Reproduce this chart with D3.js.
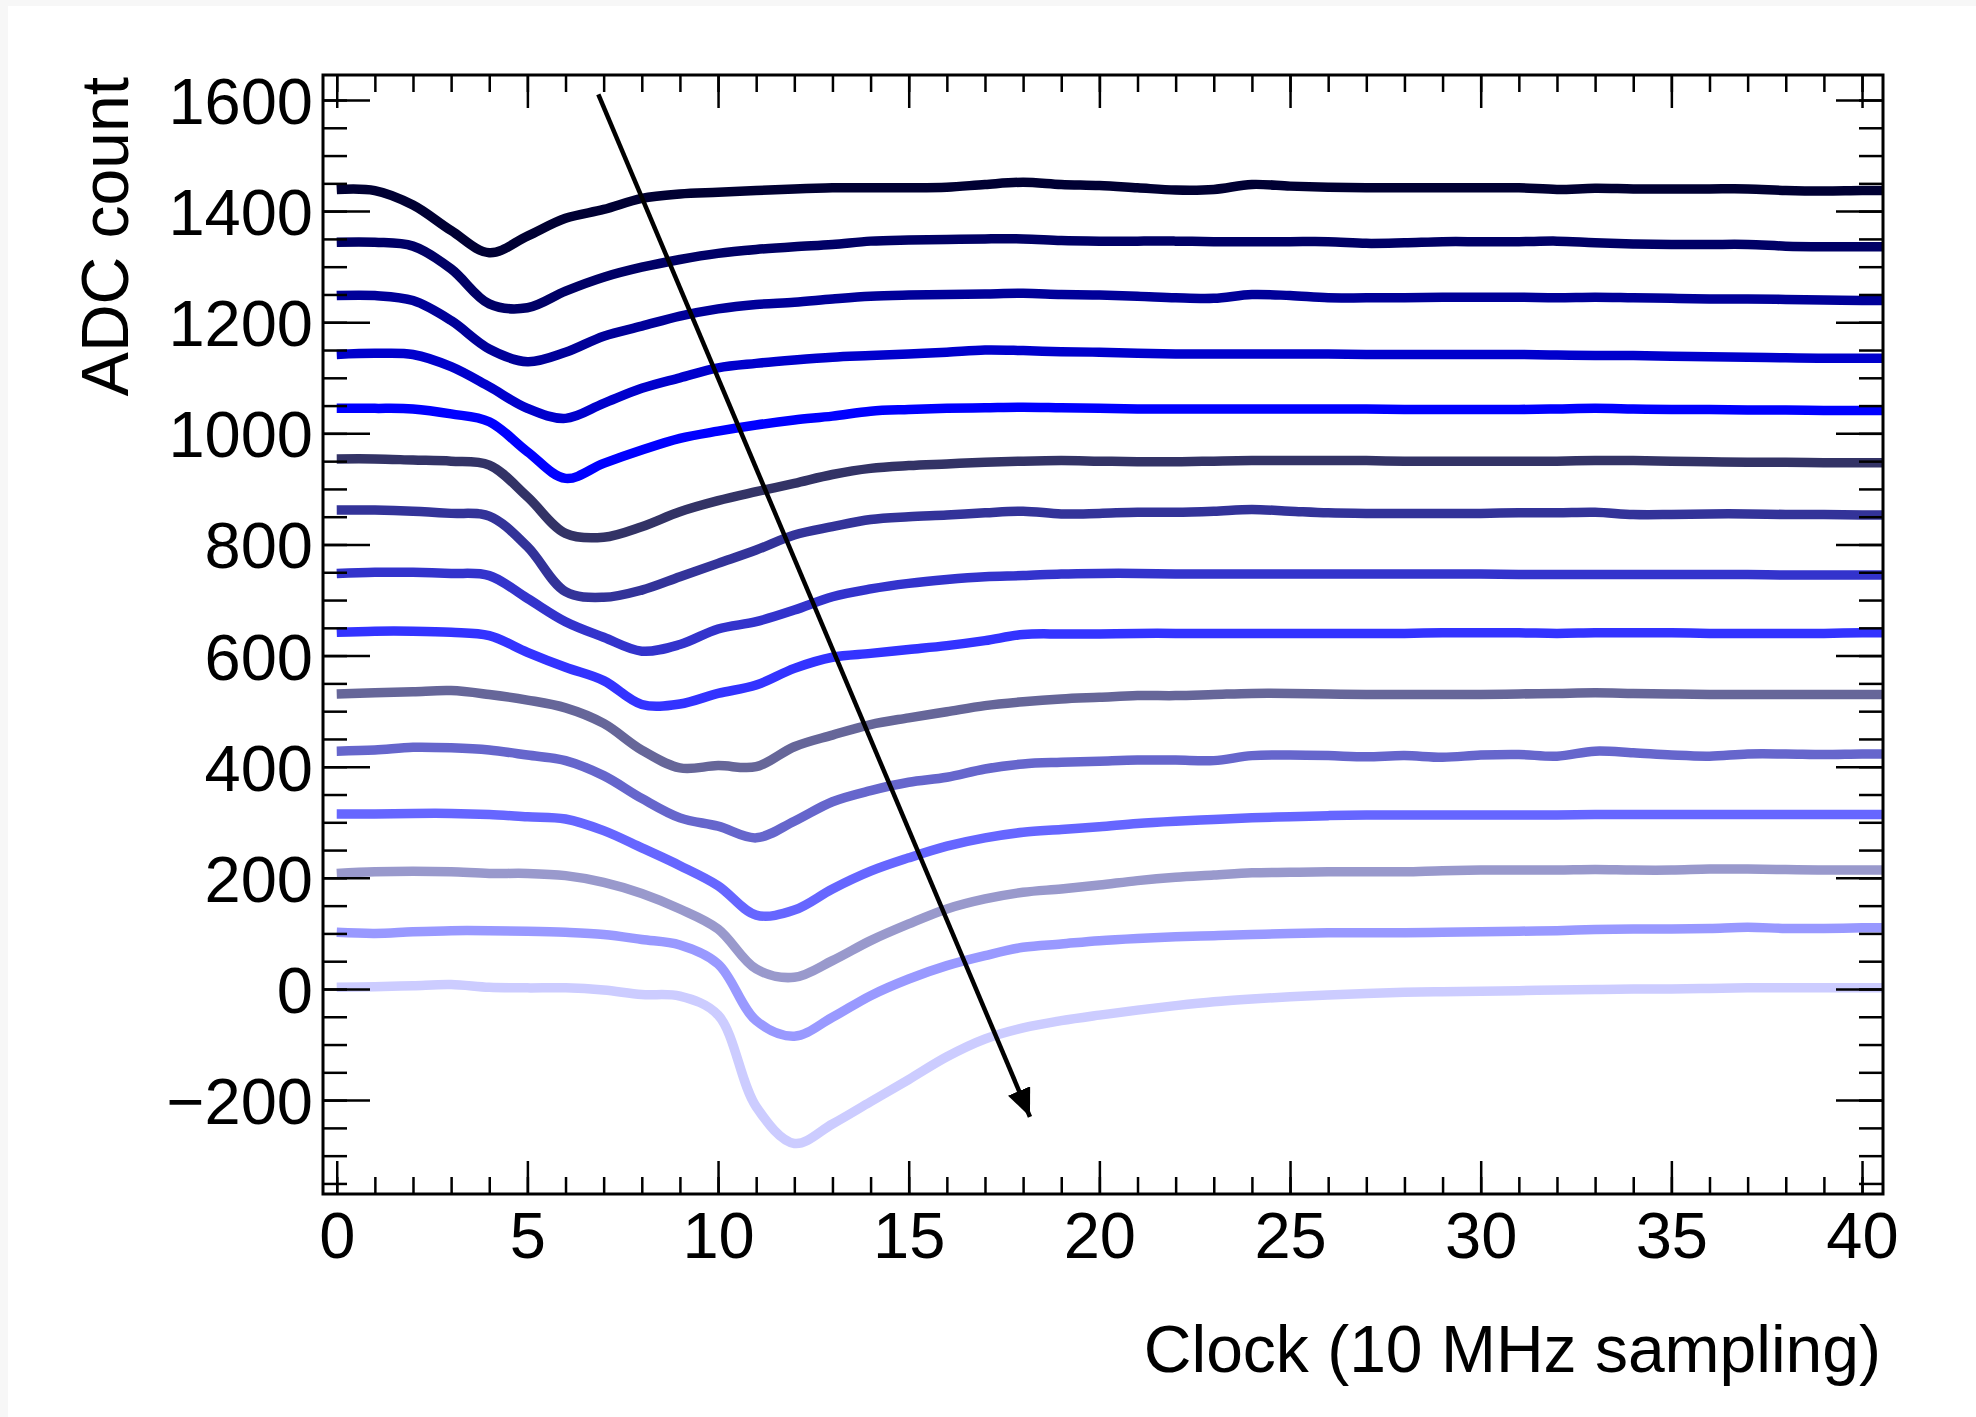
<!DOCTYPE html>
<html><head><meta charset="utf-8">
<script src="https://cdn.jsdelivr.net/npm/d3@7/dist/d3.min.js"></script>
<style>body{margin:0;background:#f7f7f7} svg{display:block}</style>
</head><body>
<svg id="chart" width="1976" height="1417"></svg>
<script>
// ---------------- data ----------------
const clocks = d3.range(0, 42); // 0..41 (last point runs past the frame edge)

const adcA = [1439,1437,1411,1365,1325,1355,1387,1403,1423,1431,1434,1437,1440,1442,1442,1442,1443,1448,1452,1448,1446,1442,1438,1439,1448,1445,1443,1442,1442,1442,1442,1442,1439,1441,1440,1440,1440,1440,1437,1436,1437,1437];
const adcB = [1344,1344,1337,1296,1233,1226,1256,1281,1299,1313,1324,1331,1336,1340,1346,1348,1349,1350,1350,1347,1346,1346,1346,1345,1345,1345,1345,1342,1343,1345,1345,1345,1346,1343,1341,1340,1340,1340,1337,1336,1336,1336];
const adcC = [1248,1248,1239,1203,1152,1129,1146,1175,1193,1211,1224,1232,1236,1242,1247,1249,1250,1251,1252,1250,1249,1247,1244,1243,1250,1248,1244,1244,1244,1245,1245,1245,1244,1245,1244,1243,1242,1242,1241,1240,1239,1239];
const adcD = [1142,1144,1142,1120,1084,1045,1027,1054,1081,1100,1118,1126,1132,1137,1140,1143,1146,1150,1149,1147,1146,1144,1143,1143,1143,1143,1143,1142,1142,1142,1142,1142,1141,1140,1140,1139,1138,1137,1136,1135,1135,1135];
const adcE = [1045,1045,1044,1035,1021,967,919,946,970,991,1004,1015,1024,1031,1040,1043,1045,1046,1047,1046,1045,1044,1044,1044,1044,1044,1044,1044,1043,1043,1043,1043,1044,1045,1044,1043,1043,1042,1042,1041,1041,1041];
const adcF = [954,954,952,950,943,886,820,813,832,859,879,895,910,926,937,942,945,948,950,951,950,949,949,950,951,951,951,951,950,950,950,950,950,951,951,950,949,948,948,947,947,947];
const adcG = [862,862,860,856,851,796,715,705,718,742,766,790,817,832,845,850,853,857,860,855,856,858,858,860,863,860,857,856,856,856,856,857,857,858,854,854,855,855,854,854,853,853];
const adcH = [748,750,750,748,744,703,661,633,608,620,648,661,682,706,720,730,737,742,744,747,748,748,747,747,747,747,747,747,747,747,747,746,746,746,746,746,746,746,745,745,745,745];
const adcI = [642,644,644,642,636,606,579,555,512,513,532,547,577,597,604,611,618,627,638,639,639,640,640,640,640,640,640,640,640,641,641,641,640,641,641,641,640,640,640,640,641,641];
const adcJ = [531,533,535,537,530,520,506,478,430,398,402,400,436,457,476,488,499,510,517,522,525,528,528,530,532,532,531,530,530,530,530,531,532,533,532,531,530,530,530,530,530,530];
const adcK = [428,430,435,434,430,421,411,384,343,308,293,272,302,337,357,372,381,396,405,408,410,412,412,411,420,421,420,418,420,417,421,422,419,428,425,421,419,423,423,422,423,423];
const adcL = [315,315,316,316,314,310,306,285,254,222,186,133,142,180,212,236,257,272,282,287,292,298,302,305,308,310,312,313,313,313,313,313,313,314,314,314,314,314,314,314,314,314];
const adcM = [208,211,212,211,208,208,204,192,172,144,108,36,21,51,87,117,144,162,174,180,187,195,201,205,209,210,211,211,211,213,214,214,214,215,214,214,216,216,215,214,214,214];
const adcN = [102,100,103,105,105,104,102,98,89,79,45,-57,-85,-51,-12,18,42,60,75,81,87,91,94,96,98,100,101,101,101,102,103,104,105,107,108,108,109,111,109,109,110,110];
const adcO = [3,4,6,8,3,2,2,-2,-10,-13,-47,-212,-278,-243,-203,-163,-122,-90,-70,-57,-47,-38,-30,-23,-18,-14,-11,-8,-6,-5,-4,-3,-2,-1,0,0,1,2,2,2,2,2];

const seriesList = [adcA, adcB, adcC, adcD, adcE, adcF, adcG, adcH, adcI, adcJ, adcK, adcL, adcM, adcN, adcO];
const seriesColors = ["#000033","#000066","#000099","#0000cc","#0000ff",
                      "#333366","#333399","#3333cc","#3333ff",
                      "#666699","#6666cc","#6666ff",
                      "#9999cc","#9999ff",
                      "#ccccff"];

const xMajorTicks = [0,5,10,15,20,25,30,35,40];
const xMinorTicks = d3.range(0, 41);
const yMajorTicks = [-200,0,200,400,600,800,1000,1200,1400,1600];
const yMinorTicks = d3.range(-350, 1650, 50);

const xTitle = "Clock (10 MHz sampling)";
const yTitle = "ADC count";

const arrowStart = {clock: 6.86, adc: 1610};
const arrowEnd   = {clock: 18.18, adc: -230};

// ---------------- layout ----------------
const W = 1976, H = 1417;
const frame = {left: 323, right: 1883, top: 75, bottom: 1194};
const font = "'Liberation Sans', Arial, Helvetica, sans-serif";

const svg = d3.select("#chart");
svg.append("rect").attr("x", 8).attr("y", 6).attr("width", W - 8).attr("height", H - 6).attr("fill", "#ffffff");

const x = d3.scaleLinear().domain([-0.36, 40.55]).range([frame.left, frame.right]);
const y = d3.scaleLinear().domain([-369, 1645]).range([frame.bottom, frame.top]);

svg.append("defs").append("clipPath").attr("id", "plotclip")
  .append("rect").attr("x", frame.left).attr("y", frame.top)
  .attr("width", frame.right - frame.left).attr("height", frame.bottom - frame.top);

// ---------------- curves ----------------
const line = d3.line()
  .x((d, i) => x(clocks[i]))
  .y(d => y(d))
  .curve(d3.curveCatmullRom.alpha(0.5));

const gLines = svg.append("g").attr("clip-path", "url(#plotclip)");
seriesList.forEach((s, k) => {
  gLines.append("path")
    .attr("d", line(s))
    .attr("fill", "none")
    .attr("stroke", seriesColors[k])
    .attr("stroke-width", 9.5)
    .attr("stroke-linejoin", "round")
    .attr("stroke-linecap", "butt");
});

// ---------------- axes ----------------
function styleAxis(g) {
  g.select(".domain").remove();
  g.selectAll(".tick line").attr("stroke", "#000").attr("stroke-width", 2.5);
}
// bottom
svg.append("g").attr("transform", `translate(0,${frame.bottom})`)
  .call(d3.axisBottom(x).tickValues(xMinorTicks).tickSize(-17).tickFormat(""))
  .call(styleAxis).selectAll("text").remove();
const gxb = svg.append("g").attr("transform", `translate(0,${frame.bottom})`)
  .call(d3.axisBottom(x).tickValues(xMajorTicks).tickSize(-33).tickFormat(d3.format("d")))
  .call(styleAxis);
gxb.selectAll("text").attr("y", 64).attr("dy", null)
  .attr("font-family", font).attr("font-size", 65).attr("fill", "#000");
// top
svg.append("g").attr("transform", `translate(0,${frame.top})`)
  .call(d3.axisTop(x).tickValues(xMinorTicks).tickSize(-17).tickFormat(""))
  .call(styleAxis).selectAll("text").remove();
svg.append("g").attr("transform", `translate(0,${frame.top})`)
  .call(d3.axisTop(x).tickValues(xMajorTicks).tickSize(-33).tickFormat(""))
  .call(styleAxis).selectAll("text").remove();
// left
svg.append("g").attr("transform", `translate(${frame.left},0)`)
  .call(d3.axisLeft(y).tickValues(yMinorTicks).tickSize(-24).tickFormat(""))
  .call(styleAxis).selectAll("text").remove();
const gyl = svg.append("g").attr("transform", `translate(${frame.left},0)`)
  .call(d3.axisLeft(y).tickValues(yMajorTicks).tickSize(-47).tickFormat(d3.format("d")))
  .call(styleAxis);
gyl.selectAll("text").attr("x", -10).attr("dy", "0.36em")
  .attr("font-family", font).attr("font-size", 65).attr("fill", "#000");
// right
svg.append("g").attr("transform", `translate(${frame.right},0)`)
  .call(d3.axisRight(y).tickValues(yMinorTicks).tickSize(-24).tickFormat(""))
  .call(styleAxis).selectAll("text").remove();
svg.append("g").attr("transform", `translate(${frame.right},0)`)
  .call(d3.axisRight(y).tickValues(yMajorTicks).tickSize(-47).tickFormat(""))
  .call(styleAxis).selectAll("text").remove();

// frame
svg.append("rect").attr("x", frame.left).attr("y", frame.top)
  .attr("width", frame.right - frame.left).attr("height", frame.bottom - frame.top)
  .attr("fill", "none").attr("stroke", "#000").attr("stroke-width", 3);

// ---------------- arrow ----------------
svg.append("defs").append("marker")
  .attr("id", "arrowhead").attr("markerUnits", "userSpaceOnUse")
  .attr("viewBox", "0 0 28 24").attr("refX", 28).attr("refY", 12)
  .attr("markerWidth", 28).attr("markerHeight", 24).attr("orient", "auto")
  .append("path").attr("d", "M0,0 L28,12 L0,24 Z").attr("fill", "#000");
svg.append("line")
  .attr("x1", x(arrowStart.clock)).attr("y1", y(arrowStart.adc))
  .attr("x2", x(arrowEnd.clock)).attr("y2", y(arrowEnd.adc))
  .attr("stroke", "#000").attr("stroke-width", 4.5)
  .attr("marker-end", "url(#arrowhead)");

// ---------------- titles ----------------
svg.append("text").attr("x", 1881).attr("y", 1372)
  .attr("text-anchor", "end").attr("font-family", font).attr("font-size", 66)
  .attr("fill", "#000").text(xTitle);
svg.append("text").attr("transform", "translate(128,77) rotate(-90)")
  .attr("text-anchor", "end").attr("font-family", font).attr("font-size", 66)
  .attr("fill", "#000").text(yTitle);
</script>
</body></html>
